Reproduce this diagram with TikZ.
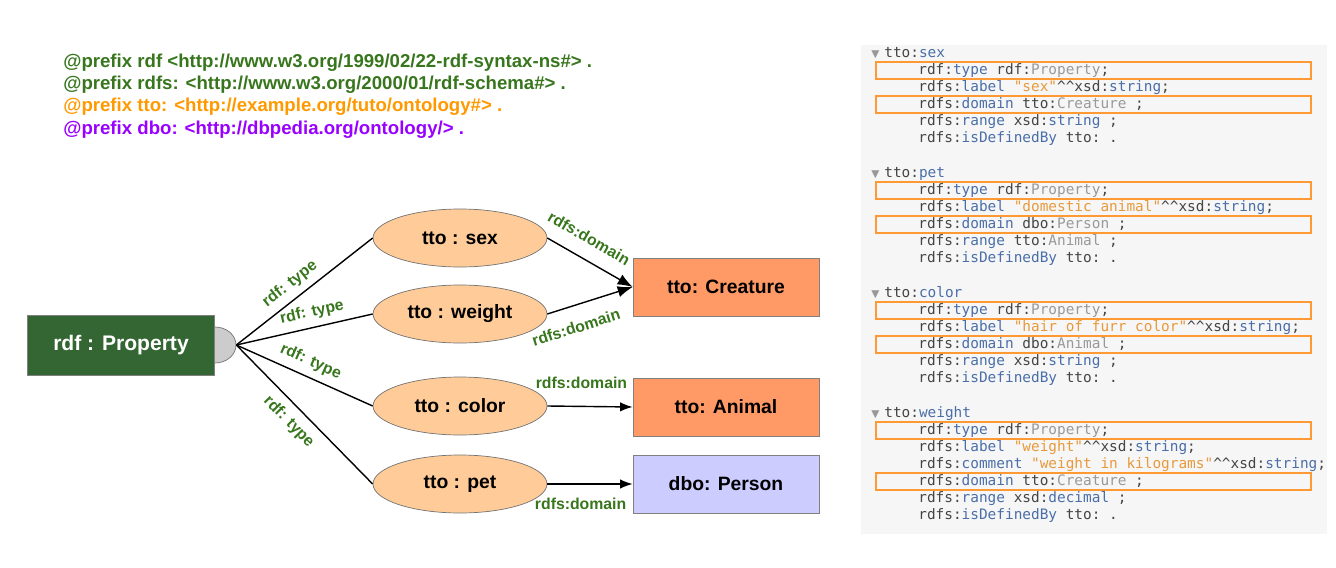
\documentclass[tikz,border=0pt]{standalone}
\usepackage{fontspec}
\setmainfont{Liberation Sans}
\setmonofont{DejaVu Sans Mono}
\newfontfamily\symfont{DejaVu Sans}
\usetikzlibrary{shapes.geometric,arrows.meta}

\definecolor{propgreen}{HTML}{346633}
\definecolor{lblgreen}{HTML}{38761D}
\definecolor{pfxorange}{HTML}{FF9900}
\definecolor{pfxpurple}{HTML}{9900FF}
\definecolor{ttofill}{HTML}{FFCC99}
\definecolor{classfill}{HTML}{FF9966}
\definecolor{dbofill}{HTML}{CCCCFF}
\definecolor{codebg}{HTML}{F6F6F6}
\definecolor{codetxt}{HTML}{444444}
\definecolor{codeblue}{HTML}{4A6EA8}
\definecolor{codegray}{HTML}{999999}
\definecolor{codestr}{HTML}{E8993C}
\definecolor{hlorange}{HTML}{FF9933}

\newcommand{\kb}[1]{\textcolor{codeblue}{#1}}
\newcommand{\kg}[1]{\textcolor{codegray}{#1}}
\newcommand{\ks}[1]{\textcolor{codestr}{#1}}
\newcommand{\hats}{\textasciicircum\textasciicircum}

\begin{document}
\begin{tikzpicture}[x=0.02cm, y=-0.02cm,
  pfxline/.style={anchor=base west, inner sep=0, font=\fontsize{10.6}{12}\selectfont\bfseries},
  propbox/.style={rectangle, draw=gray, fill=propgreen, text=white, minimum width=3.74cm, minimum height=1.2cm, font=\fontsize{12}{14}\selectfont\bfseries},
  knob/.style={ellipse, draw=gray!90!black, fill=black!20, minimum width=0.84cm, minimum height=0.72cm, inner sep=0},
  ttonode/.style={ellipse, draw=gray!90!black, fill=ttofill, minimum width=3.48cm, minimum height=1.16cm, font=\fontsize{11}{13}\selectfont\bfseries},
  classbox/.style={rectangle, draw=gray, fill=classfill, minimum width=3.72cm, minimum height=1.16cm, font=\fontsize{11}{13}\selectfont\bfseries},
  edgelbl/.style={text=lblgreen, font=\fontsize{9}{10}\selectfont\bfseries, inner sep=0},
  codeline/.style={anchor=base west, inner sep=0, text=codetxt, font=\ttfamily\fontsize{8.2}{9}\selectfont},
  hlbox/.style={draw=hlorange, line width=1.1pt}]
\useasboundingbox (0,0) rectangle (1336,568);

% prefixes
\node[pfxline, text=lblgreen] (p1) at (63,67) {@prefix rdf <http://www.w3.org/1999/02/22-rdf-syntax-ns\#> .};
\node[pfxline, text=lblgreen] (p2) at (63,89) {@prefix rdfs: <http://www.w3.org/2000/01/rdf-schema\#> .};
\node[pfxline, text=pfxorange] (p3) at (63,111) {@prefix tto: <http://example.org/tuto/ontology\#> .};
\node[pfxline, text=pfxpurple] (p4) at (63,134) {@prefix dbo: <http://dbpedia.org/ontology/> .};

% graph
\node[knob] (knob) at (215,345) {};
\node[propbox] (prop) at (121,345) {rdf : Property};
\node[ttonode] (sex) at (460,238) {tto : sex};
\node[ttonode] (weight) at (460,314) {tto : weight};
\node[ttonode] (color) at (460,406) {tto : color};
\node[ttonode] (pet) at (460,484) {tto : pet};
\node[classbox] (creature) at (726,287) {tto: Creature};
\node[classbox] (animal) at (726,407) {tto: Animal};
\node[classbox, fill=dbofill] (person) at (726,484) {dbo: Person};

\draw[thick] (knob.east) -- (sex.west) node[edgelbl, pos=0.46, sloped, above=3.8pt] {rdf: type};
\draw[thick] (knob.east) -- (weight.west) node[edgelbl, pos=0.58, sloped, above=4pt] {rdf: type};
\draw[thick] (knob.east) -- (color.west) node[edgelbl, pos=0.5, sloped, above=4pt] {rdf: type};
\draw[thick] (knob.east) -- (pet.west) node[edgelbl, pos=0.47, sloped, below=4.8pt] {rdf: type};

\draw[thick, -{Latex[length=3mm]}] (sex.east) -- (creature.west) node[edgelbl, pos=0.37, sloped, above=8pt] {rdfs:domain};
\draw[thick, -{Latex[length=3mm]}] (weight.east) -- (creature.west) node[edgelbl, pos=0.26, sloped, below=8.5pt] {rdfs:domain};
\draw[thick, -{Latex[length=2.5mm]}] (color.east) -- (animal.west) node[edgelbl, pos=0.4, above=9.5pt] {rdfs:domain};
\draw[thick, -{Latex[length=2.5mm]}] (pet.east) -- (person.west) node[edgelbl, pos=0.39, below=7.5pt] {rdfs:domain};

% turtle panel
\fill[codebg] (861,45) rectangle (1327,534);
\foreach \y in {62,96,182,216,302,336,422,473}
  \draw[hlbox] (876,\y) rectangle (1311,\y+17);

\node[codeline, text=codegray] (t1) at (871,57) {\symfont\fontsize{6}{7}\selectfont ▼};
\node[codeline] (s0) at (884,57) {tto:\kb{sex}};
\node[codeline] (s1) at (918,74) {rdf:\kb{type} rdf:\kg{Property};};
\node[codeline] (s2) at (918,91) {rdfs:\kb{label} \ks{"sex"}\hats xsd:\kb{string};};
\node[codeline] (s3) at (918,108) {rdfs:\kb{domain} tto:\kg{Creature} ;};
\node[codeline] (s4) at (918,125) {rdfs:\kb{range} xsd:\kb{string} ;};
\node[codeline] (s5) at (918,142) {rdfs:\kb{isDefinedBy} tto: .};

\node[codeline, text=codegray] (t2) at (871,177) {\symfont\fontsize{6}{7}\selectfont ▼};
\node[codeline] (e0) at (884,177) {tto:\kb{pet}};
\node[codeline] (e1) at (918,194) {rdf:\kb{type} rdf:\kg{Property};};
\node[codeline] (e2) at (918,211) {rdfs:\kb{label} \ks{"domestic animal"}\hats xsd:\kb{string};};
\node[codeline] (e3) at (918,228) {rdfs:\kb{domain} dbo:\kg{Person} ;};
\node[codeline] (e4) at (918,245) {rdfs:\kb{range} tto:\kg{Animal} ;};
\node[codeline] (e5) at (918,262) {rdfs:\kb{isDefinedBy} tto: .};

\node[codeline, text=codegray] (t3) at (871,297) {\symfont\fontsize{6}{7}\selectfont ▼};
\node[codeline] (c0) at (884,297) {tto:\kb{color}};
\node[codeline] (c1) at (918,314) {rdf:\kb{type} rdf:\kg{Property};};
\node[codeline] (c2) at (918,331) {rdfs:\kb{label} \ks{"hair of furr color"}\hats xsd:\kb{string};};
\node[codeline] (c3) at (918,348) {rdfs:\kb{domain} dbo:\kg{Animal} ;};
\node[codeline] (c4) at (918,365) {rdfs:\kb{range} xsd:\kb{string} ;};
\node[codeline] (c5) at (918,382) {rdfs:\kb{isDefinedBy} tto: .};

\node[codeline, text=codegray] (t4) at (871,417) {\symfont\fontsize{6}{7}\selectfont ▼};
\node[codeline] (w0) at (884,417) {tto:\kb{weight}};
\node[codeline] (w1) at (918,434) {rdf:\kb{type} rdf:\kg{Property};};
\node[codeline] (w2) at (918,451) {rdfs:\kb{label} \ks{"weight"}\hats xsd:\kb{string};};
\node[codeline] (w3) at (918,468) {rdfs:\kb{comment} \ks{"weight in kilograms"}\hats xsd:\kb{string};};
\node[codeline] (w4) at (918,485) {rdfs:\kb{domain} tto:\kg{Creature} ;};
\node[codeline] (w5) at (918,502) {rdfs:\kb{range} xsd:\kb{decimal} ;};
\node[codeline] (w6) at (918,519) {rdfs:\kb{isDefinedBy} tto: .};
\end{tikzpicture}
\end{document}
